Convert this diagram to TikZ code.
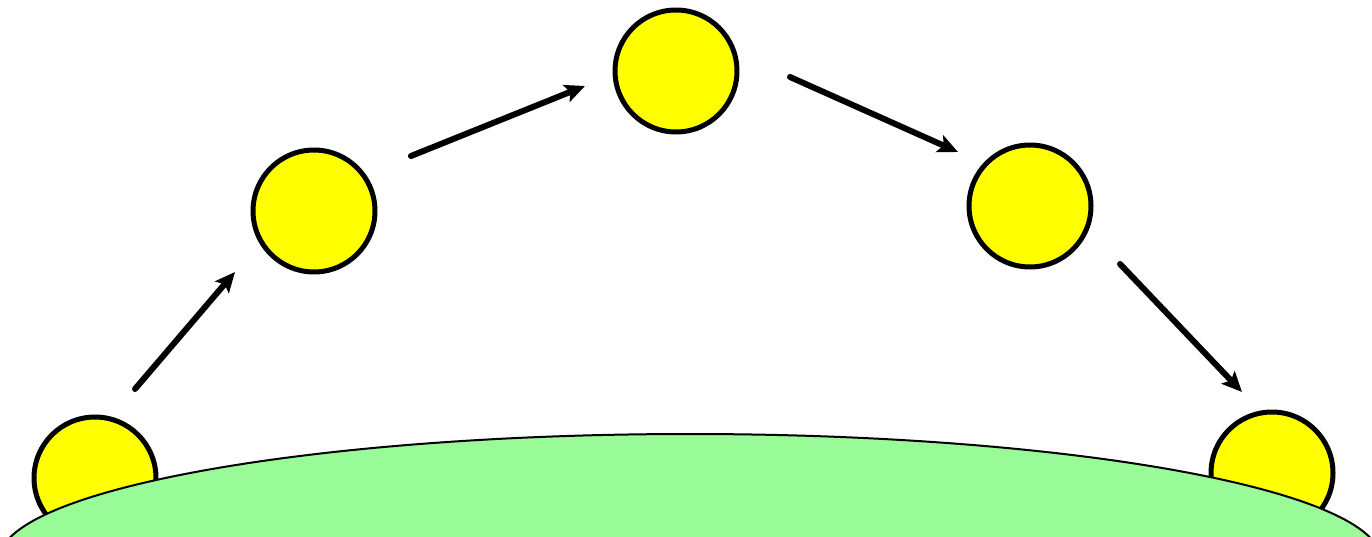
\documentclass[tikz,border=0pt]{standalone}
\usepackage{tikz}
\usetikzlibrary{arrows.meta}
\definecolor{ballyellow}{RGB}{255,255,0}
\definecolor{hillgreen}{RGB}{152,251,152}

\begin{document}
\begin{tikzpicture}[x=0.02cm,y=-0.02cm,
    ball/.style={circle,draw=black,fill=ballyellow,line width=0.1cm,
                 minimum size=2.44cm,inner sep=0pt},
    hop/.style={line width=0.12cm,line cap=round,
                -{Stealth[length=0.4cm,width=0.36cm,inset=0.08cm]}}]
        \clip (0,0) rectangle (1372,537);
        % Balls along the path
        \node[ball] (b1) at (95,478)   {};
        \node[ball] (b2) at (314,211)  {};
        \node[ball] (b3) at (676,71)   {};
        \node[ball] (b4) at (1030,206) {};
        \node[ball] (b5) at (1272,473) {};
        % Ground
        \draw[fill=hillgreen,line width=0.04cm] (690,560) ellipse [x radius=691,y radius=126];
        % Arrow ends
        \coordinate (s1) at (135,389);  \coordinate (e1) at (235,272);
        \coordinate (s2) at (411,156);  \coordinate (e2) at (585,86);
        \coordinate (s3) at (790,77);   \coordinate (e3) at (958,152);
        \coordinate (s4) at (1120,264); \coordinate (e4) at (1242,392);
        % Arrows
        \draw[hop] (s1) -- (e1);
        \draw[hop] (s2) -- (e2);
        \draw[hop] (s3) -- (e3);
        \draw[hop] (s4) -- (e4);
\end{tikzpicture}
\end{document}
